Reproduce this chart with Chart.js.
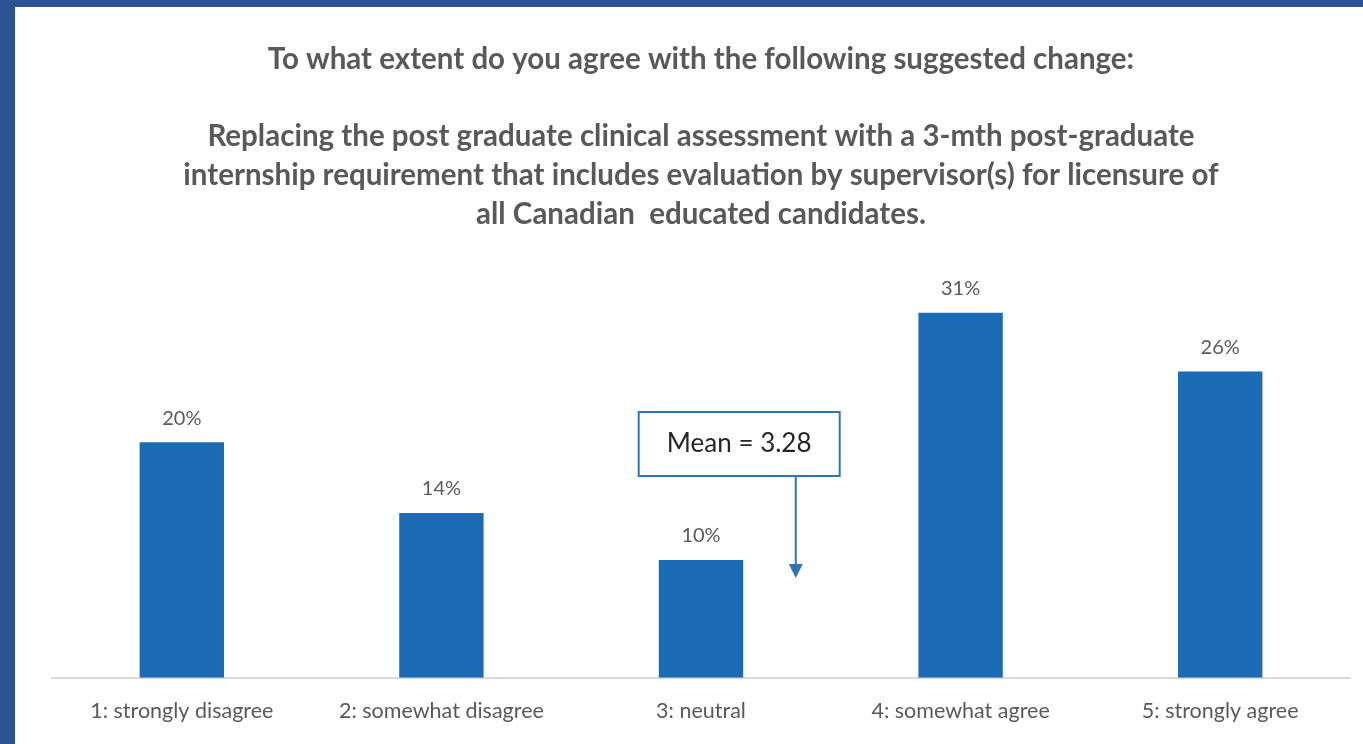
<!DOCTYPE html>
<html>
<head>
<meta charset="utf-8">
<script src="https://cdn.jsdelivr.net/npm/chart.js@4.4.1/dist/chart.umd.min.js"></script>
<style>
  html, body { margin: 0; padding: 0; }
  body { width: 1363px; height: 744px; background: #2c5393; overflow: hidden; position: relative; }
  #panel { position: absolute; left: 15px; top: 7px; width: 1348px; height: 737px; background: #ffffff; }
  canvas { display: block; }
</style>
</head>
<body>
<div id="panel"><canvas id="c" width="1348" height="737"></canvas></div>
<script>
const categories = ['1: strongly disagree', '2: somewhat disagree', '3: neutral', '4: somewhat agree', '5: strongly agree'];
const percentages = [20, 14, 10, 31, 26];
const titleLines = [
  'To what extent do you agree with the following suggested change:',
  '',
  'Replacing the post graduate clinical assessment with a 3-mth post-graduate',
  'internship requirement that includes evaluation by supervisor(s) for licensure of',
  'all Canadian  educated candidates.'
];
const meanLabel = 'Mean = 3.28';

const valueLabels = {
  id: 'valueLabels',
  afterDatasetsDraw(chart) {
    const ctx = chart.ctx;
    const meta = chart.getDatasetMeta(0);
    ctx.save();
    ctx.font = '20px Lato';
    ctx.fillStyle = '#595959';
    ctx.textAlign = 'center';
    ctx.textBaseline = 'middle';
    meta.data.forEach((bar, i) => {
      ctx.fillText(percentages[i] + '%', bar.x, bar.y - 24);
    });
    ctx.restore();
  }
};

const meanCallout = {
  id: 'meanCallout',
  afterDatasetsDraw(chart) {
    const ctx = chart.ctx;
    const xs = chart.scales.x;
    const step = xs.getPixelForValue(3) - xs.getPixelForValue(2);
    const arrowX = xs.getPixelForValue(2) + 0.365 * step;
    const boxL = xs.getPixelForValue(2) - 0.24 * step;
    const boxW = 201, boxH = 64;
    const boxT = 405;
    ctx.save();
    ctx.strokeStyle = '#2e75b6';
    ctx.lineWidth = 2;
    ctx.fillStyle = '#ffffff';
    ctx.fillRect(boxL, boxT, boxW, boxH);
    ctx.strokeRect(boxL, boxT, boxW, boxH);
    ctx.font = '26px Lato';
    ctx.fillStyle = '#262626';
    ctx.textAlign = 'center';
    ctx.textBaseline = 'middle';
    ctx.fillText(meanLabel, boxL + boxW / 2, boxT + boxH / 2);
    ctx.beginPath();
    ctx.moveTo(arrowX, boxT + boxH);
    ctx.lineTo(arrowX, 560);
    ctx.stroke();
    ctx.beginPath();
    ctx.fillStyle = '#2e75b6';
    ctx.moveTo(arrowX - 7, 557);
    ctx.lineTo(arrowX + 7, 557);
    ctx.lineTo(arrowX, 571);
    ctx.closePath();
    ctx.fill();
    ctx.restore();
  }
};

new Chart(document.getElementById('c'), {
  type: 'bar',
  data: {
    labels: categories,
    datasets: [{
      data: percentages,
      backgroundColor: '#1b6ab4',
      categoryPercentage: 1.0,
      barPercentage: 0.325
    }]
  },
  options: {
    responsive: false,
    animation: false,
    layout: { padding: { left: 37, right: 13, top: 0, bottom: 7 } },
    plugins: {
      legend: { display: false },
      tooltip: { enabled: false },
      title: {
        display: true,
        text: titleLines,
        color: '#595959',
        font: { family: 'Lato', size: 29.5, weight: 'bold', lineHeight: 1.312 },
        padding: { top: 33, bottom: 32 }
      }
    },
    scales: {
      x: {
        grid: { display: false },
        border: { display: true, color: '#d9d9d9', width: 2 },
        ticks: { color: '#595959', font: { family: 'Lato', size: 21.5, lineHeight: 1.17 }, padding: 13, maxRotation: 0 }
      },
      y: {
        display: false,
        min: 0,
        max: 35
      }
    }
  },
  plugins: [valueLabels, meanCallout]
});
</script>
</body>
</html>
